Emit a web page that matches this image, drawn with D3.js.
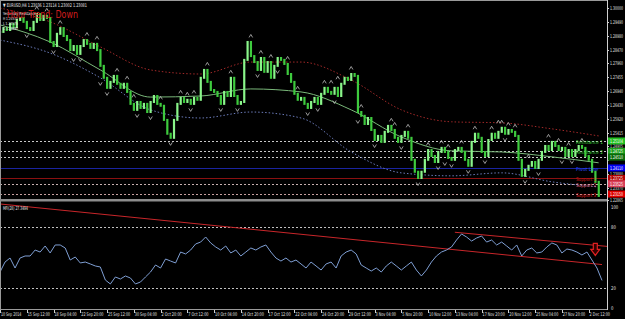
<!DOCTYPE html>
<html>
<head>
<meta charset="utf-8">
<script src="https://cdn.jsdelivr.net/npm/d3@7"></script>
<style>
  body { margin: 0; background: #000; overflow: hidden; }
  svg text { font-family: "DejaVu Sans", sans-serif; }
</style>
</head>
<body>
<div id="chart"></div>
<script>
// EURUSD H4 closes, one stored value every 2 bars
const closes = [
  1.2912, 1.2926, 1.2919, 1.2941, 1.2930, 1.2956, 1.2963, 1.2949, 1.2926, 1.2919,
  1.2949, 1.2978, 1.2956, 1.2971, 1.2963, 1.2875, 1.2860, 1.2905, 1.2926, 1.2897,
  1.2882, 1.2845, 1.2860, 1.2831, 1.2860, 1.2882, 1.2868, 1.2853, 1.2868, 1.2845,
  1.2787, 1.2743, 1.2706, 1.2728, 1.2750, 1.2721, 1.2706, 1.2721, 1.2691, 1.2647,
  1.2625, 1.2654, 1.2632, 1.2647, 1.2617, 1.2654, 1.2676, 1.2647, 1.2640, 1.2588,
  1.2537, 1.2522, 1.2588, 1.2647, 1.2669, 1.2654, 1.2662, 1.2647, 1.2669, 1.2662,
  1.2743, 1.2772, 1.2728, 1.2698, 1.2691, 1.2676, 1.2647, 1.2691, 1.2676, 1.2743,
  1.2676, 1.2647, 1.2654, 1.2809, 1.2875, 1.2823, 1.2801, 1.2772, 1.2816, 1.2765,
  1.2801, 1.2743, 1.2787, 1.2816, 1.2809, 1.2794, 1.2757, 1.2728, 1.2684, 1.2662,
  1.2669, 1.2647, 1.2632, 1.2654, 1.2669, 1.2647, 1.2684, 1.2706, 1.2691, 1.2684,
  1.2706, 1.2676, 1.2721, 1.2743, 1.2735, 1.2757, 1.2750, 1.2617, 1.2603, 1.2573,
  1.2595, 1.2551, 1.2514, 1.2529, 1.2507, 1.2544, 1.2566, 1.2551, 1.2522, 1.2507,
  1.2529, 1.2544, 1.2522, 1.2441, 1.2397, 1.2374, 1.2397, 1.2441, 1.2477, 1.2455,
  1.2433, 1.2470, 1.2485, 1.2470, 1.2448, 1.2441, 1.2477, 1.2485, 1.2470, 1.2441,
  1.2419, 1.2507, 1.2537, 1.2522, 1.2470, 1.2455, 1.2514, 1.2537, 1.2522, 1.2544,
  1.2559, 1.2537, 1.2551, 1.2544, 1.2529, 1.2441, 1.2382, 1.2404, 1.2419, 1.2433,
  1.2411, 1.2441, 1.2470, 1.2492, 1.2477, 1.2507, 1.2492, 1.2477, 1.2485, 1.2455,
  1.2477, 1.2455, 1.2477, 1.2492, 1.2485, 1.2455, 1.2441, 1.2397, 1.2360, 1.2308
];
const barsPerClose = 2;

// fractal marks (index into closes)
const fractalUp = [11, 14, 18, 26, 29, 35, 38, 40, 48, 54, 56, 58, 62, 69, 75, 78, 81, 86, 89,
  97, 99, 101, 105, 108, 117, 118, 122, 128, 132, 134, 138, 142, 147, 149, 150, 152, 154,
  158, 164, 167, 170, 174];
const fractalDown = [8, 16, 22, 24, 30, 32, 41, 45, 51, 57, 66, 71, 77, 83, 92, 95, 100, 107,
  112, 120, 125, 131, 133, 135, 140, 145, 151, 157, 161, 168, 171];

// moving average and envelopes (bar index, price)
const bandBars = [0, 30, 60, 90, 120, 150, 180, 210, 240, 270, 300, 330, 358];
const maValues = [1.2938, 1.2875, 1.2772, 1.2672, 1.2676, 1.2702, 1.2691, 1.2625, 1.2525, 1.2474, 1.2470, 1.2452, 1.2430];
const upperValues = [1.3000, 1.2949, 1.2857, 1.2772, 1.2757, 1.2801, 1.2801, 1.2735, 1.2625, 1.2581, 1.2577, 1.2555, 1.2529];
const lowerValues = [1.2882, 1.2834, 1.2743, 1.2625, 1.2595, 1.2617, 1.2595, 1.2470, 1.2393, 1.2382, 1.2393, 1.2360, 1.2341];

// pivot levels
const levelNames = ["Resistance 1", "Resistance 2", "", "Pivot Line", "Support 1", "Support 2", "Support 3"];
const levelValues = [1.25104, 1.24725, 1.24510, 1.24110, 1.23725, 1.23525, 1.23150];

// price axis labels
const priceTicks = [1.30000, 1.29490, 1.28980, 1.28470, 1.27960, 1.27455, 1.26940, 1.26430,
  1.25920, 1.25415, 1.24905, 1.24395, 1.23880, 1.23370, 1.22865];

// time axis labels, one every 16 bars
const timeLabels = ["10 Sep 2014", "15 Sep 12:00", "18 Sep 04:00", "22 Sep 20:00", "25 Sep 12:00",
  "30 Sep 04:00", "2 Oct 20:00", "7 Oct 12:00", "10 Oct 04:00", "14 Oct 20:00", "17 Oct 12:00",
  "22 Oct 04:00", "24 Oct 20:00", "29 Oct 12:00", "3 Nov 04:00", "5 Nov 20:00", "10 Nov 12:00",
  "13 Nov 04:00", "17 Nov 20:00", "20 Nov 12:00", "25 Nov 04:00", "27 Nov 20:00", "2 Dec 12:00"];
const timeLabelStep = 16;

// MFI(28), one value every 3 bars
const mfi = [
  35.6, 45.5, 49.5, 39.6, 49.5, 51.5, 51.5, 57.4, 55.4, 61.4, 54.5, 62.4, 62.4, 59.4, 47.5,
  50.5, 44.6, 45.5, 43.6, 41.6, 40.6, 27.7, 23.8, 30.7, 28.7, 31.7, 29.7, 23.8, 25.7, 30.7,
  35.6, 42.6, 39.6, 48.5, 46.5, 44.6, 55.4, 53.5, 57.4, 63.4, 65.3, 70.3, 64.4, 60.4, 57.4,
  61.4, 54.5, 57.4, 51.5, 55.4, 59.4, 57.4, 60.4, 62.4, 55.4, 49.5, 46.5, 49.5, 45.5, 47.5,
  43.6, 39.6, 45.5, 41.6, 37.6, 43.6, 45.5, 39.6, 51.5, 55.4, 57.4, 53.5, 42.6, 39.6, 36.6,
  39.6, 35.6, 41.6, 45.5, 41.6, 37.6, 41.6, 45.5, 37.6, 31.7, 37.6, 45.5, 51.5, 55.4, 57.4,
  60.4, 67.3, 73.3, 70.3, 66.3, 69.3, 71.3, 65.3, 67.3, 62.4, 65.3, 61.4, 57.4, 62.4, 51.5,
  57.4, 59.4, 54.5, 55.4, 60.4, 64.4, 62.4, 54.5, 58.4, 57.4, 55.4, 52.5, 55.4, 47.5, 39.6,
  27.3
];
const mfiBarsPerValue = 3;
const mfiTicks = [100, 80, 20, 0];
const mfiLevels = [80, 20];
const mfiTrendLines = [
  [[0, 103], [360, 43]],
  [[272, 75], [363, 61]]
];
const signalArrow = [356, 58];

const W = 625, H = 319;
const plotRight = 607;

const svg = d3.select("#chart")
  .append("svg")
  .attr("width", W)
  .attr("height", H)
  .style("background", "#000");

const x = d3.scaleLinear().domain([0, 360]).range([0, 602]);
const y = d3.scaleLinear().domain([1.22967, 1.30295]).range([199, 0]);
const yM = d3.scaleLinear().domain([0, 100]).range([308, 207]);

const defs = svg.append("defs");
defs.append("clipPath").attr("id", "clipMain")
  .append("rect").attr("x", 1).attr("y", 1).attr("width", plotRight - 1).attr("height", 198);
defs.append("clipPath").attr("id", "clipMfi")
  .append("rect").attr("x", 1).attr("y", 202).attr("width", plotRight - 1).attr("height", 107);

const main = svg.append("g").attr("clip-path", "url(#clipMain)");
const sub = svg.append("g").attr("clip-path", "url(#clipMfi)");

// tiny text squeezed horizontally to the width it has in the screenshot
function label(g, txt, px, py, size, color, width) {
  const t = g.append("text")
    .attr("font-size", size)
    .attr("fill", color)
    .text(txt);
  let sx = 1;
  if (width) {
    const natural = t.node().getComputedTextLength();
    if (natural > 0) sx = width / natural;
  }
  t.attr("transform", `translate(${px},${py}) scale(${sx},1)`);
  return t;
}

// pivot levels
const levelStroke = ["#c8c8c8", "#c8c8c8", "#c8c8c8", "#1a24a0", "#8a1010", "#c8b0b0", "#c8a0a0"];
const levelDash = ["2,2", "2,2", "2,2", null, null, "2,2", "2,2"];
const levelText = ["#3cd23c", "#3cd23c", "#3cd23c", "#2a4cff", "#d01a1a", "#e0607a", "#e01a1a"];
const levelBox = ["#22c022", "#1ea01e", "#0a6a0a", "#0000ee", "#b00000", "#d8405a", "#e00000"];

main.selectAll(".level")
  .data(levelValues)
  .enter()
  .append("line")
  .attr("x1", 0)
  .attr("x2", plotRight)
  .attr("y1", d => Math.round(y(d)) + 0.5)
  .attr("y2", d => Math.round(y(d)) + 0.5)
  .attr("stroke", (d, i) => levelStroke[i])
  .attr("stroke-width", 1)
  .attr("stroke-dasharray", (d, i) => levelDash[i]);

// envelopes and MA
const bandLine = vals => d3.line()
  .x((d, i) => x(bandBars[i]))
  .y(d => y(d))
  .curve(d3.curveMonotoneX)(vals);

main.append("path").attr("d", bandLine(upperValues))
  .attr("fill", "none").attr("stroke", "#a02828").attr("stroke-dasharray", "1.5,2");
main.append("path").attr("d", bandLine(lowerValues))
  .attr("fill", "none").attr("stroke", "#6a7ab8").attr("stroke-dasharray", "1.5,2");
main.append("path").attr("d", bandLine(maValues))
  .attr("fill", "none").attr("stroke", "#7ab87a").attr("stroke-width", 1);

// candles (open = previous close)
main.selectAll(".bar")
  .data(closes)
  .enter()
  .append("rect")
  .attr("x", (d, i) => x(i * barsPerClose) - 1)
  .attr("width", 2.2)
  .attr("y", (d, i) => y(Math.max(d, i ? closes[i - 1] : d)) - 1)
  .attr("height", (d, i) => Math.abs(y(d) - y(i ? closes[i - 1] : d)) + 2)
  .attr("fill", (d, i) => (i && d > closes[i - 1]) ? "#8af58a" : "#3ecb3e");

// fractals
const peak = i => d3.max(closes.slice(Math.max(0, i - 1), i + 2));
const trough = i => d3.min(closes.slice(Math.max(0, i - 1), i + 2));

main.selectAll(".fup")
  .data(fractalUp)
  .enter()
  .append("path")
  .attr("transform", d => `translate(${x(d * barsPerClose)},${y(peak(d)) - 6})`)
  .attr("d", "M-1.8,1.5L0,-1.5L1.8,1.5")
  .attr("fill", "none").attr("stroke", "#bdbdbd").attr("stroke-width", 0.8);

main.selectAll(".fdn")
  .data(fractalDown)
  .enter()
  .append("path")
  .attr("transform", d => `translate(${x(d * barsPerClose)},${y(trough(d)) + 6})`)
  .attr("d", "M-1.8,-1.5L0,1.5L1.8,-1.5")
  .attr("fill", "none").attr("stroke", "#bdbdbd").attr("stroke-width", 0.8);

// level names
levelValues.forEach((v, i) => {
  if (levelNames[i]) label(main, levelNames[i], 576, y(v) + 3, 5, levelText[i], levelNames[i].length * 2.25);
});

// header texts
label(svg, "\u25BC EURUSD,H4  1.23036 1.23114 1.23002 1.23081", 3, 7, 5, "#e8e8e8", 84);
const dayInfo = ["Yesterday Resistance", "H 1.24570", "L 1.23575", "C 1.23880"];
dayInfo.forEach((d, i) => label(svg, d, 3, 15 + i * 5, 4.2, "#f0f0f0", d.length * 1.65));
label(svg, "Hour Trend: Down", 7, 18, 10, "#d21e1e", 71)
  .attr("font-family", "Liberation Sans, Arial, sans-serif");

// MFI panel
sub.selectAll(".mlev")
  .data(mfiLevels)
  .enter()
  .append("line")
  .attr("x1", 0).attr("x2", plotRight)
  .attr("y1", d => Math.round(yM(d)) + 0.5)
  .attr("y2", d => Math.round(yM(d)) + 0.5)
  .attr("stroke", "#c0c0c0")
  .attr("stroke-dasharray", "2,2");

sub.selectAll(".trend")
  .data(mfiTrendLines)
  .enter()
  .append("line")
  .attr("x1", d => x(d[0][0])).attr("y1", d => yM(d[0][1]))
  .attr("x2", d => x(d[1][0])).attr("y2", d => yM(d[1][1]))
  .attr("stroke", "#c8262a")
  .attr("stroke-width", 1);

sub.append("path")
  .attr("d", d3.line().x((d, i) => x(i * mfiBarsPerValue)).y(d => yM(d))(mfi))
  .attr("fill", "none")
  .attr("stroke", "#7f9fd4")
  .attr("stroke-width", 1);

sub.append("path")
  .attr("transform", `translate(${x(signalArrow[0])},${yM(signalArrow[1])})`)
  .attr("d", "M-2,-6L2,-6L2,0L4.5,0L0,6L-4.5,0L-2,0Z")
  .attr("fill", "#300")
  .attr("stroke", "#e02020")
  .attr("stroke-width", 1.2);

label(svg, "MFI(28) 27.3494", 3, 210, 5, "#e8e8e8", 25);

// frames
const frame = svg.append("g").attr("stroke", "#9a9a9a").attr("fill", "none");
frame.append("line").attr("x1", 0).attr("x2", plotRight).attr("y1", 0.5).attr("y2", 0.5);
frame.append("line").attr("x1", 0.5).attr("x2", 0.5).attr("y1", 0).attr("y2", 310);
frame.append("rect").attr("x", 0).attr("y", 199).attr("width", plotRight).attr("height", 2.5)
  .attr("fill", "#8c8c8c").attr("stroke", "none");
frame.append("line").attr("x1", 0).attr("x2", plotRight).attr("y1", 309.5).attr("y2", 309.5);
frame.append("line").attr("x1", plotRight + 0.5).attr("x2", plotRight + 0.5).attr("y1", 0).attr("y2", 310)
  .attr("stroke", "#d0d0d0");

// price axis; grid labels fully covered by a level box are not drawn
const pAxis = svg.append("g");
priceTicks.forEach(v => {
  const py = Math.min(y(v), 200);
  pAxis.append("line")
    .attr("x1", plotRight).attr("x2", plotRight + 2)
    .attr("y1", Math.round(py) + 0.5).attr("y2", Math.round(py) + 0.5)
    .attr("stroke", "#d0d0d0");
  const covered = levelValues.some(l => Math.abs(y(l) - py) < 4);
  if (!covered) label(pAxis, v.toFixed(5), 610, py + 2, 5, "#e0e0e0", 13);
});

levelValues.forEach((v, i) => {
  pAxis.append("rect")
    .attr("x", plotRight + 1)
    .attr("y", y(v) - 3.5)
    .attr("width", W - plotRight - 1)
    .attr("height", 7)
    .attr("fill", levelBox[i]);
  label(pAxis, v.toFixed(5), 610, y(v) + 2, 5, "#fff", 13);
});

// MFI axis
mfiTicks.forEach(v => {
  label(svg, String(v), 611, yM(v) + 2, 5, "#e0e0e0", String(v).length * 2.4);
});

// time axis
timeLabels.forEach((d, i) => {
  const tx = x(i * timeLabelStep);
  label(svg, d, tx + 1, 316, 5, "#e0e0e0", d.length * 1.85);
  svg.append("line")
    .attr("x1", Math.round(tx) + 0.5).attr("x2", Math.round(tx) + 0.5)
    .attr("y1", 310).attr("y2", 313)
    .attr("stroke", "#d0d0d0");
});
</script>
</body>
</html>
